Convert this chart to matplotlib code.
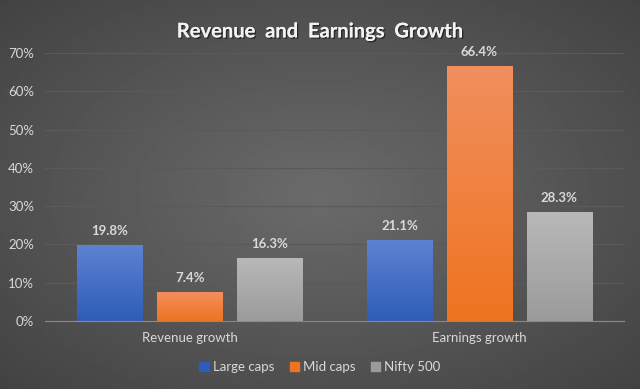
import numpy as np
import matplotlib.pyplot as plt
import matplotlib.patheffects as pe
from matplotlib.patches import Patch
from matplotlib.ticker import PercentFormatter

categories = ["Revenue growth", "Earnings growth"]
series = ["Large caps", "Mid caps", "Nifty 500"]
large_caps = [19.8, 21.1]
mid_caps = [7.4, 66.4]
nifty_500 = [16.3, 28.3]

# top / bottom colours of each bar gradient
grads = [("#5d82d2", "#2e5db8"), ("#f28f5e", "#ee7420"), ("#b8b8b8", "#9b9b9b")]
txt = "#d9d9d9"
plt.rcParams['font.family'] = ['Lato', 'DejaVu Sans']

fig = plt.figure(figsize=(6.4, 3.89), dpi=100)

# radial background
bg = fig.add_axes([0, 0, 1, 1], zorder=-10)
yy, xx = np.mgrid[-1:1:200j, -1:1:300j]
r = np.sqrt(xx**2 + yy**2) / np.sqrt(2)
bg.imshow(0.26 + 0.16 * (1 - r), cmap="gray", vmin=0, vmax=1, aspect="auto", extent=[0, 1, 0, 1])
bg.axis("off")

ax = fig.add_axes([0.0703, 0.1748, 0.905, 0.689])
ax.patch.set_alpha(0)
x = np.arange(len(categories))
w = 0.2245
off = 0.276
for i, vals in enumerate([large_caps, mid_caps, nifty_500]):
    top, bot = grads[i]
    cmap = plt.matplotlib.colors.LinearSegmentedColormap.from_list("g", [bot, top])
    for j, v in enumerate(vals):
        xc = x[j] + (i - 1) * off
        grad = np.linspace(0, 1, 100).reshape(-1, 1)
        ax.imshow(grad, cmap=cmap, origin="lower", aspect="auto",
                  extent=[xc - w / 2, xc + w / 2, 0, v], zorder=2)
        ax.text(xc, v + 2.2, f"{v}%", ha="center", va="bottom", color=txt,
                fontsize=9.5, fontweight="bold")

ax.set_xlim(-0.5, 1.5)
ax.set_ylim(0, 70)
ax.set_yticks(np.arange(0, 71, 10))
ax.yaxis.set_major_formatter(PercentFormatter(decimals=0))
ax.set_xticks(x)
ax.set_xticklabels(categories)
ax.grid(axis="y", color="#5a5a5a", linewidth=0.9, zorder=0)
ax.set_axisbelow(True)
for s in ["top", "right", "left"]:
    ax.spines[s].set_visible(False)
ax.spines["bottom"].set_color("#8a8a8a")
ax.tick_params(axis="both", length=0, colors=txt, labelsize=9.5)
ax.tick_params(axis="y", pad=8)
ax.tick_params(axis="x", pad=8)

fig.suptitle("Revenue  and  Earnings  Growth", y=0.945, color="#f2f2f2",
             fontsize=14.5, fontweight="bold",
             path_effects=[pe.withSimplePatchShadow(offset=(1, -1), shadow_rgbFace="black", alpha=0.5), pe.Normal()])

handles = [Patch(color=g[1], label=s) for g, s in zip(grads, series)]
fig.legend(handles=handles, loc="center", bbox_to_anchor=(0.5, 0.057), ncol=3,
           frameon=False, labelcolor=txt, fontsize=9.5, handlelength=0.7,
           handleheight=0.7, handletextpad=0.3, columnspacing=1.2)

fig.savefig("out.png", dpi=100)
